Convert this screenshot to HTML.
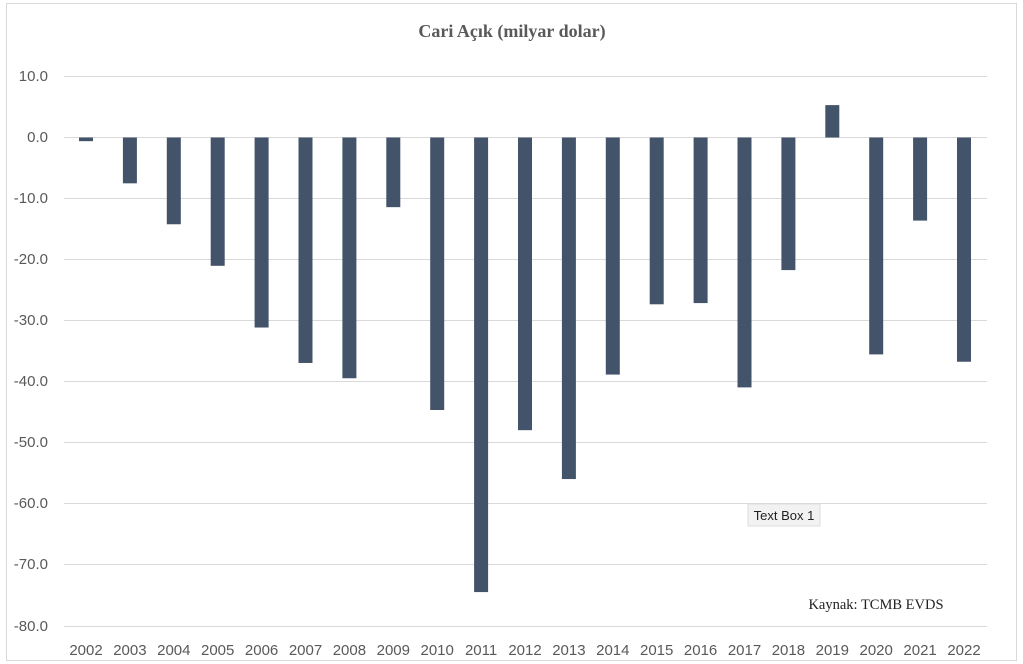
<!DOCTYPE html>
<html><head><meta charset="utf-8"><style>
body{margin:0;background:#fff;width:1023px;height:664px;overflow:hidden}
svg{display:block}
</style></head><body>
<svg width="1023" height="664" xmlns="http://www.w3.org/2000/svg">
<rect x="6.5" y="3.5" width="1010" height="657" fill="#fff" stroke="#d9d9d9"/>
<text x="512" y="37" text-anchor="middle" font-family="Liberation Serif, serif" font-size="18" font-weight="bold" fill="#595959">Cari Açık (milyar dolar)</text>
<g stroke="#d9d9d9" stroke-width="1">
<line x1="64" x2="987" y1="76.5" y2="76.5"/><line x1="64" x2="987" y1="137.5" y2="137.5"/>
<line x1="64" x2="987" y1="198.5" y2="198.5"/><line x1="64" x2="987" y1="259.5" y2="259.5"/>
<line x1="64" x2="987" y1="320.5" y2="320.5"/><line x1="64" x2="987" y1="381.5" y2="381.5"/>
<line x1="64" x2="987" y1="442.5" y2="442.5"/><line x1="64" x2="987" y1="503.5" y2="503.5"/>
<line x1="64" x2="987" y1="564.5" y2="564.5"/><line x1="64" x2="987" y1="626.5" y2="626.5"/>
</g>
<g font-family="Liberation Sans, sans-serif" font-size="15" fill="#595959" text-anchor="end">
<text x="48" y="81">10.0</text><text x="48" y="142">0.0</text><text x="48" y="203">-10.0</text>
<text x="48" y="264">-20.0</text><text x="48" y="325">-30.0</text><text x="48" y="386">-40.0</text>
<text x="48" y="447">-50.0</text><text x="48" y="508">-60.0</text><text x="48" y="569">-70.0</text>
<text x="48" y="631">-80.0</text>
</g>
<g id="bars" fill="#435369"></g>
<g id="xl" font-family="Liberation Sans, sans-serif" font-size="15" fill="#595959" text-anchor="middle"></g>
<rect x="748" y="504" width="72" height="22" fill="#f2f2f2" stroke="#ddd"/>
<text x="784" y="520" text-anchor="middle" font-family="Liberation Sans, sans-serif" font-size="13" fill="#222">Text Box 1</text>
<text x="876" y="609" text-anchor="middle" font-family="Liberation Serif, serif" font-size="14.5" fill="#222">Kaynak: TCMB EVDS</text>
<script>
var v=[-0.6,-7.5,-14.2,-21,-31.1,-36.9,-39.4,-11.4,-44.6,-74.4,-47.9,-55.9,-38.8,-27.3,-27.1,-40.9,-21.7,5.3,-35.5,-13.6,-36.7];
var b=document.getElementById('bars'),x=document.getElementById('xl'),ns='http://www.w3.org/2000/svg';
var y0=137.5,s=6.11;
v.forEach(function(d,i){var cx=86+i*43.9;var r=document.createElementNS(ns,'rect');
r.setAttribute('x',cx-7);r.setAttribute('width',14);
r.setAttribute('y',d<0?y0:y0-d*s);r.setAttribute('height',Math.abs(d)*s);b.appendChild(r);
var t=document.createElementNS(ns,'text');t.setAttribute('x',cx);t.setAttribute('y',655);t.textContent=2002+i;x.appendChild(t);});
</script>
</svg>
</body></html>
